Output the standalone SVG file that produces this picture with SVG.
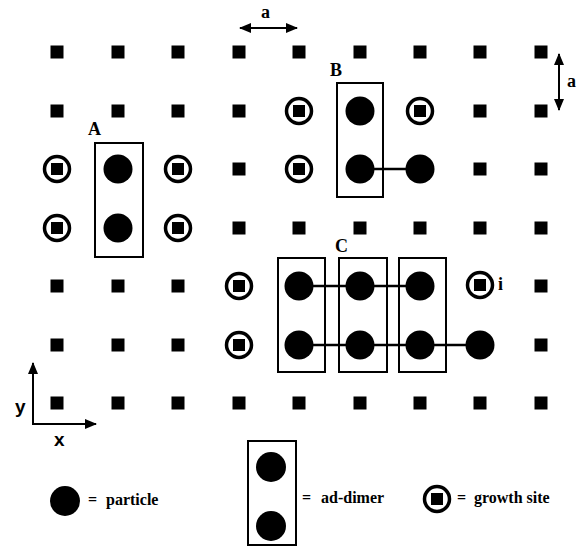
<svg xmlns="http://www.w3.org/2000/svg" width="581" height="556" viewBox="0 0 581 556">
<style>
.sq{fill:#000}
.ring{fill:none;stroke:#000;stroke-width:3.5}
.p{fill:#000}
.box{fill:none;stroke:#000;stroke-width:2}
.bond{stroke:#000;stroke-width:2.5;fill:none}
.lbl{font-family:"Liberation Serif","Times New Roman",serif;font-weight:bold;font-size:18px;fill:#000}
.leg{font-family:"Liberation Serif","Times New Roman",serif;font-weight:bold;font-size:16px;fill:#000}
.ax{font-family:"Liberation Sans",Arial,sans-serif;font-weight:bold;font-size:19px;fill:#000}
.arr{stroke:#000;stroke-width:2;fill:none}
</style>
<defs>
<symbol id="s" overflow="visible"><rect class="sq" x="-6.5" y="-6.5" width="13" height="13"/></symbol>
<symbol id="g" overflow="visible"><circle class="ring" cx="0" cy="0" r="12.5"/><rect class="sq" x="-6" y="-6" width="12" height="12"/></symbol>
<marker id="ah" viewBox="0 0 12 10" refX="11" refY="5" markerWidth="12" markerHeight="10" markerUnits="userSpaceOnUse" orient="auto-start-reverse"><path d="M0,0 L12,5 L0,10 Z" fill="#000"/></marker>
</defs>
<g id="lattice">
<use href="#s" x="57" y="52"/><use href="#s" x="118" y="52"/><use href="#s" x="178" y="52"/><use href="#s" x="239" y="52"/><use href="#s" x="299" y="52"/><use href="#s" x="360" y="52"/><use href="#s" x="420" y="52"/><use href="#s" x="480" y="52"/><use href="#s" x="541" y="52"/>
<use href="#s" x="57" y="111"/><use href="#s" x="118" y="111"/><use href="#s" x="178" y="111"/><use href="#s" x="239" y="111"/><use href="#s" x="480" y="111"/><use href="#s" x="541" y="111"/>
<use href="#s" x="239" y="169"/><use href="#s" x="480" y="169"/><use href="#s" x="541" y="169"/>
<use href="#s" x="239" y="228"/><use href="#s" x="299" y="228"/><use href="#s" x="360" y="228"/><use href="#s" x="420" y="228"/><use href="#s" x="480" y="228"/><use href="#s" x="541" y="228"/>
<use href="#s" x="57" y="286"/><use href="#s" x="118" y="286"/><use href="#s" x="178" y="286"/><use href="#s" x="541" y="286"/>
<use href="#s" x="57" y="345"/><use href="#s" x="118" y="345"/><use href="#s" x="178" y="345"/><use href="#s" x="541" y="345"/>
<use href="#s" x="57" y="403"/><use href="#s" x="118" y="403"/><use href="#s" x="178" y="403"/><use href="#s" x="239" y="403"/><use href="#s" x="299" y="403"/><use href="#s" x="360" y="403"/><use href="#s" x="420" y="403"/><use href="#s" x="480" y="403"/><use href="#s" x="541" y="403"/>
</g>
<g id="growth-sites">
<use href="#g" x="57" y="169"/><use href="#g" x="57" y="228"/><use href="#g" x="178" y="169"/><use href="#g" x="178" y="228"/>
<use href="#g" x="299" y="111"/><use href="#g" x="299" y="169"/><use href="#g" x="420" y="111"/>
<use href="#g" x="239" y="286"/><use href="#g" x="239" y="345"/>
</g>
<g id="connectors">
<line class="bond" x1="360" y1="169" x2="420" y2="169"/>
<line class="bond" x1="299" y1="286" x2="420" y2="286"/>
<line class="bond" x1="299" y1="345" x2="480" y2="345"/>
</g>
<g id="dimer-A">
<rect class="box" x="95" y="143" width="48" height="114"/>
<circle class="p" cx="118" cy="169" r="14.5"/><circle class="p" cx="118" cy="228" r="14.5"/>
<text class="lbl" x="88" y="135">A</text>
</g>
<g id="dimer-B">
<rect class="box" x="337" y="83" width="46" height="114"/>
<circle class="p" cx="360" cy="111" r="14.5"/><circle class="p" cx="360" cy="169" r="14.5"/>
<text class="lbl" x="330" y="76">B</text>
</g>
<g id="particle-B2"><circle class="p" cx="420" cy="169" r="14.5"/></g>
<g id="dimer-C1">
<rect class="box" x="278" y="258" width="47" height="114"/>
<circle class="p" cx="299" cy="286" r="14.5"/><circle class="p" cx="299" cy="345" r="14.5"/>
</g>
<g id="dimer-C2">
<rect class="box" x="339" y="258" width="48" height="114"/>
<circle class="p" cx="360" cy="286" r="14.5"/><circle class="p" cx="360" cy="345" r="14.5"/>
<text class="lbl" x="335" y="252">C</text>
</g>
<g id="dimer-C3">
<rect class="box" x="399" y="258" width="47" height="114"/>
<circle class="p" cx="420" cy="286" r="14.5"/><circle class="p" cx="420" cy="345" r="14.5"/>
</g>
<g id="particle-C4"><circle class="p" cx="480" cy="345" r="14.5"/></g>
<g id="site-i">
<use href="#g" x="480" y="285"/>
<text class="lbl" x="498" y="290">i</text>
</g>
<g id="scale-a-x">
<line class="arr" x1="240" y1="28" x2="297" y2="28" marker-start="url(#ah)" marker-end="url(#ah)"/>
<text class="lbl" x="261" y="18">a</text>
</g>
<g id="scale-a-y">
<line class="arr" x1="559" y1="54" x2="559" y2="110" marker-start="url(#ah)" marker-end="url(#ah)"/>
<text class="lbl" x="567" y="87">a</text>
</g>
<g id="axes">
<line class="arr" x1="33" y1="425" x2="33" y2="363" stroke-width="2.5" marker-end="url(#ah)"/>
<line class="arr" x1="32" y1="424" x2="96" y2="424" stroke-width="2.5" marker-end="url(#ah)"/>
<text class="ax" x="15" y="413">y</text>
<text class="ax" x="54" y="446">x</text>
</g>
<g id="legend-particle">
<circle class="p" cx="65" cy="501" r="15"/>
<text class="leg" x="88" y="505">=</text>
<text class="leg" x="106" y="505">particle</text>
</g>
<g id="legend-dimer">
<rect class="box" x="248" y="441" width="48" height="104"/>
<circle class="p" cx="271" cy="467" r="15"/><circle class="p" cx="271" cy="526" r="15"/>
<text class="leg" x="302" y="503">=</text>
<text class="leg" x="321" y="503">ad-dimer</text>
</g>
<g id="legend-growth">
<use href="#g" x="437" y="499"/>
<text class="leg" x="457" y="503">=</text>
<text class="leg" x="474" y="503">growth site</text>
</g>
</svg>
